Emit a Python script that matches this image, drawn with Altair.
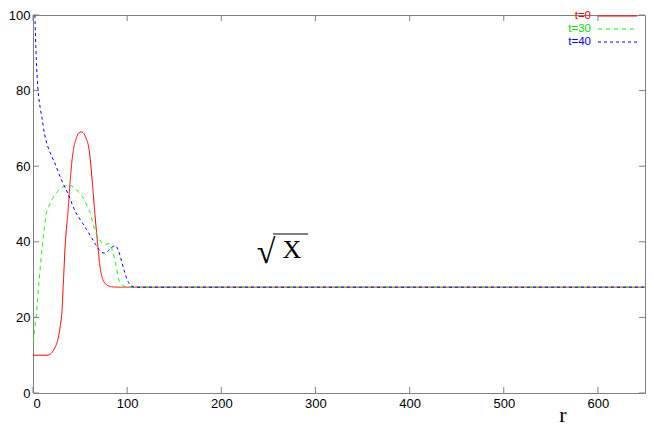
import altair as alt
import pandas as pd

# ---- data ----
r_t0 = [0, 15, 17.8, 20.5, 23, 25.5, 27.5, 29, 30.7, 32.4, 34.1, 35.5, 36.9, 39.4, 41, 43, 45.5, 48,
        50.9, 53.5, 56.5, 59.6, 63, 65.8, 67.5, 69, 70.7, 72.5, 74.2, 76.5, 79, 83.6, 90, 650]
v_t0 = [10, 10, 10.2, 10.8, 11.9, 13.3, 15.4, 17.8, 21.4, 30, 38.6, 43.5, 47.2, 55.8, 60.5, 64.4, 67, 68.6,
        69.1, 68.8, 67.3, 64.4, 55.8, 47.2, 42.5, 38.6, 34.3, 31.5, 30, 29, 28.5, 28.1, 28, 28]

r_t30 = [0, 2, 3.8, 6.6, 9.8, 12, 14, 17, 21, 26, 32, 38.7, 44, 49, 54.3, 58, 61.3, 64.8, 66.9, 70.3,
         73, 75.6, 78.5, 81.5, 84.5, 87.8, 91.2, 94, 96.5, 100, 650]
v_t30 = [13.5, 17.5, 21.4, 30, 38.6, 43.5, 47.2, 49.5, 51.5, 53.3, 54.5, 54.9, 54.3, 53, 51.2, 49.2, 47.2,
         43.8, 42.3, 40.7, 39.8, 39.3, 39.4, 39.6, 37.5, 34.3, 30, 28.8, 28.3, 28, 28]

r_t40 = [2, 3.5, 5.2, 7.6, 9.4, 12.2, 16, 19.9, 23, 30, 37, 45, 49, 53, 57, 62, 66.7, 71, 75.5, 80,
         84, 87.5, 91, 94.7, 97.5, 100, 102.5, 105, 110, 650]
v_t40 = [100, 88.4, 80.7, 75.5, 72.9, 68.6, 65, 62.6, 60.9, 56.5, 52.8, 48, 46.3, 44.8, 43.2, 41.2, 39.2,
         37.7, 37, 37.6, 38.6, 39, 37.5, 34.3, 31.8, 30, 28.8, 28.2, 28, 28]

series_names = ["t=0", "t=30", "t=40"]
line_colors = ["#ff0000", "#00ff00", "#0000ff"]
text_colors = ["#ff0000", "#00dd00", "#0000ff"]
dashes = [[1, 0], [4, 4], [3, 3]]

x_ticks = [0, 100, 200, 300, 400, 500, 600]
y_ticks = [0, 20, 40, 60, 80, 100]

W, H = 612, 378
GRAY = "#808080"
TL = 6

df = pd.concat([
    pd.DataFrame({"r": r_t0, "v": v_t0, "series": "t=0"}),
    pd.DataFrame({"r": r_t30, "v": v_t30, "series": "t=30"}),
    pd.DataFrame({"r": r_t40, "v": v_t40, "series": "t=40"}),
], ignore_index=True)

xs = alt.Scale(domain=[0, 650], nice=False, zero=False)
ys = alt.Scale(domain=[0, 100], nice=False, zero=False)
xax = alt.Axis(values=x_ticks, title=None, labelPadding=4)
yax = alt.Axis(values=y_ticks, title=None, labelPadding=3)

lines = alt.Chart(df).mark_line(strokeWidth=1, interpolate="monotone", clip=True).encode(
    x=alt.X("r:Q", scale=xs, axis=xax),
    y=alt.Y("v:Q", scale=ys, axis=yax),
    color=alt.Color("series:N", scale=alt.Scale(domain=series_names, range=line_colors), legend=None),
    strokeDash=alt.StrokeDash("series:N", scale=alt.Scale(domain=series_names, range=dashes), legend=None),
    detail="series:N",
)

xt = pd.DataFrame({"t": x_ticks})
yt = pd.DataFrame({"t": y_ticks})

tick_b = alt.Chart(xt).mark_rule(color=GRAY, strokeWidth=1).encode(
    x=alt.X("t:Q", scale=xs, axis=xax), y=alt.value(H), y2=alt.value(H - TL))
tick_t = alt.Chart(xt).mark_rule(color=GRAY, strokeWidth=1).encode(
    x=alt.X("t:Q", scale=xs, axis=xax), y=alt.value(0), y2=alt.value(TL))
tick_l = alt.Chart(yt).mark_rule(color=GRAY, strokeWidth=1).encode(
    y=alt.Y("t:Q", scale=ys, axis=yax), x=alt.value(0), x2=alt.value(TL))
tick_r = alt.Chart(yt).mark_rule(color=GRAY, strokeWidth=1).encode(
    y=alt.Y("t:Q", scale=ys, axis=yax), x=alt.value(W), x2=alt.value(W - TL))

one = alt.Data(values=[{}])
legend_layers = []
row_y = [1, 14, 27]
for name, tc, lc, d, yy in zip(series_names, text_colors, line_colors, dashes, row_y):
    legend_layers.append(
        alt.Chart(one).mark_text(text=name, align="right", baseline="middle", fontSize=11.5,
                                 font="Liberation Sans", color=tc).encode(
            x=alt.value(558), y=alt.value(yy)))
    legend_layers.append(
        alt.Chart(one).mark_rule(color=lc, strokeWidth=1, strokeDash=d).encode(
            x=alt.value(565), x2=alt.value(604), y=alt.value(yy)))

# sqrt(X) annotation
sq = alt.Chart(one).mark_text(text="√", align="center", baseline="alphabetic", fontSize=34,
                              font="Liberation Serif", color="black").encode(
    x=alt.value(233), y=alt.value(248))
bar = alt.Chart(one).mark_rule(color="black", strokeWidth=1).encode(
    x=alt.value(240), x2=alt.value(275), y=alt.value(219))
xt_txt = alt.Chart(one).mark_text(text="X", align="center", baseline="alphabetic", fontSize=26,
                                  font="Liberation Serif", color="black").encode(
    x=alt.value(259), y=alt.value(243))

r_title = alt.Chart(one).mark_text(text="r", align="center", baseline="alphabetic", fontSize=22,
                                   font="Liberation Serif", color="black").encode(
    x=alt.value(530), y=alt.value(407))

chart = alt.layer(
    lines, tick_b, tick_t, tick_l, tick_r, *legend_layers, sq, bar, xt_txt, r_title
).properties(
    width=W, height=H,
    autosize=alt.AutoSizeParams(type="none"),
    padding={"left": 25, "top": 7, "right": 1, "bottom": 34},
).configure_view(
    stroke=GRAY, strokeWidth=1
).configure_axis(
    domain=False, ticks=False, tickSize=0, grid=False,
    labelFont="Liberation Sans", labelFontSize=13, labelColor="black",
)

chart.save("out.html", embed_options={"renderer": "svg", "actions": False})
